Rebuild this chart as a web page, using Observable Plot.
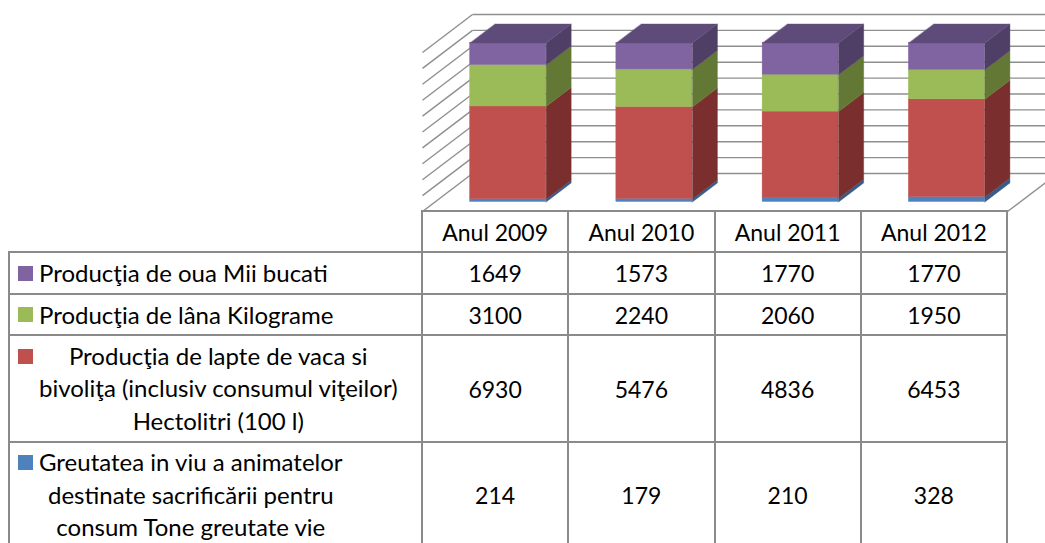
<!DOCTYPE html>
<html>
<head>
<meta charset="utf-8">
<script src="https://cdn.jsdelivr.net/npm/d3@7"></script>
<script src="https://cdn.jsdelivr.net/npm/@observablehq/plot@0.6"></script>
<style>
  html, body { margin: 0; padding: 0; background: #fff; overflow: hidden; }
  #wrap { position: relative; width: 1045px; height: 543px; overflow: hidden; font-family: Lato, "Open Sans", sans-serif; color: #000; }
  #chart { position: absolute; left: 0; top: 0; }
  .hl, .vl { position: absolute; background: #8a8a8a; }
  .txt { position: absolute; font-size: 23px; line-height: 32.5px; white-space: nowrap; }
  .lab { font-size: 24px; }
  .sw { position: absolute; width: 15px; height: 15px; }
</style>
</head>
<body>
<div id="wrap"><div id="chart"></div></div>
<script>
// ---- data ----
const years = ["Anul 2009", "Anul 2010", "Anul 2011", "Anul 2012"];
const seriesNames = [
  "Greutatea in viu a animatelor\ndestinate sacrificării pentru\nconsum Tone greutate vie",
  "Producţia de lapte de vaca si\nbivoliţa (inclusiv consumul viţeilor)\nHectolitri (100 l)",
  "Producţia de lâna Kilograme",
  "Producţia de oua Mii bucati"
];
const weightValues = [214, 179, 210, 328];
const milkValues = [6930, 5476, 4836, 6453];
const woolValues = [3100, 2240, 2060, 1950];
const eggValues = [1649, 1573, 1770, 1770];
const gridTicks = [0, 10, 20, 30, 40, 50, 60, 70, 80, 90, 100];

// ---- styles ----
const frontColors = ["#4F81BD", "#C0504D", "#9BBB59", "#8064A2"];
const sideColors  = ["#375C89", "#7A2F2E", "#637835", "#4F3E66"];
const topColors   = ["#3F6A9C", "#96403D", "#7B9446", "#5F4B7A"];
const seriesValues = [weightValues, milkValues, woolValues, eggValues];

const DX = 0.342, DY = 23.9;        // full depth vector in data units
const F = 0.25, B = 0.75;           // bar front / back depth fraction
const HALF = 0.26;                  // half bar width in category units

// ---- build faces from data ----
const fronts = [], sides = [], tops = [];
years.forEach((yr, i) => {
  const total = d3.sum(seriesValues, s => s[i]);
  let lo = 0;
  seriesValues.forEach((s, k) => {
    const hi = lo + s[i] / total * 100;
    const x1f = i - HALF + F * DX, x2f = i + HALF + F * DX;
    const x1b = i - HALF + B * DX, x2b = i + HALF + B * DX;
    fronts.push({x1: x1f, x2: x2f, y1: lo + F * DY, y2: hi + F * DY, c: frontColors[k]});
    const sid = `s${i}-${k}`;
    [[x2f, lo + F * DY], [x2b, lo + B * DY], [x2b, hi + B * DY], [x2f, hi + F * DY]]
      .forEach(([x, y]) => sides.push({x, y, id: sid, c: sideColors[k]}));
    if (k === seriesValues.length - 1) {
      const tid = `t${i}`;
      [[x1f, hi + F * DY], [x2f, hi + F * DY], [x2b, hi + B * DY], [x1b, hi + B * DY]]
        .forEach(([x, y]) => tops.push({x, y, id: tid, c: topColors[k]}));
    }
    lo = hi;
  });
});

const x0 = -0.5, x1 = years.length - 0.5;
const backLines = gridTicks.map(t => ({x1: x0 + DX, y1: t + DY, x2: x1 + DX + 0.2, y2: t + DY}));
const sideLines = gridTicks.map(t => ({x1: x0 + DX, y1: t + DY, x2: x0, y2: t}));
const floorLines = [
  {x1: x0, y1: 0, x2: x1, y2: 0},
  {x1: x1, y1: 0, x2: x1 + DX, y2: DY}
];

const chart = Plot.plot({
  width: 1045,
  height: 212,
  marginLeft: 422,
  marginRight: 38,
  marginTop: 52,
  marginBottom: 1,
  x: {domain: [x0, x1], axis: null},
  y: {domain: [0, 100], axis: null},
  color: {type: "identity"},
  marks: [
    Plot.link(backLines, {x1: "x1", y1: "y1", x2: "x2", y2: "y2", stroke: "#8f8f8f", strokeWidth: 1.4}),
    Plot.link(sideLines, {x1: "x1", y1: "y1", x2: "x2", y2: "y2", stroke: "#8f8f8f", strokeWidth: 1.4}),
    Plot.link(floorLines, {x1: "x1", y1: "y1", x2: "x2", y2: "y2", stroke: "#8f8f8f", strokeWidth: 1.4}),
    Plot.rect(fronts, {x1: "x1", x2: "x2", y1: "y1", y2: "y2", fill: "c", stroke: "c", strokeWidth: 0.4}),
    Plot.line(sides, {x: "x", y: "y", z: "id", fill: "c", stroke: "c", strokeWidth: 0.4, curve: "linear-closed"}),
    Plot.line(tops, {x: "x", y: "y", z: "id", fill: "c", stroke: "c", strokeWidth: 0.4, curve: "linear-closed"})
  ]
});
document.getElementById("chart").appendChild(chart);

// ---- data table below the chart ----
const wrap = document.getElementById("wrap");
const xs = chart.scale("x");
const colEdges = d3.range(years.length + 1).map(j => xs.apply(j - 0.5));
const tableLeft = 9;
const rowEdges = [211, 252, 294, 335, 442, 548];
const rowOrder = [3, 2, 1, 0];   // table lists top series first
const LW = 2;

function el(cls, css, text) {
  const d = document.createElement("div");
  d.className = cls;
  Object.assign(d.style, css);
  if (text != null) d.textContent = text;
  wrap.appendChild(d);
  return d;
}
// horizontal lines
rowEdges.slice(0, 5).forEach((y, r) => {
  const left = r === 0 ? colEdges[0] : tableLeft;
  el("hl", {left: (left - 1) + "px", top: (y - 1) + "px", width: (colEdges[years.length] - left + 2) + "px", height: LW + "px"});
});
// vertical lines
colEdges.forEach(x => el("vl", {left: (x - 1) + "px", top: (rowEdges[0] - 1) + "px", width: LW + "px", height: "400px"}));
el("vl", {left: (tableLeft - 1) + "px", top: (rowEdges[1] - 1) + "px", width: LW + "px", height: "400px"});

// header
years.forEach((yr, i) => {
  el("txt", {left: xs.apply(i) + "px", top: ((rowEdges[0] + rowEdges[1]) / 2) + "px", transform: "translate(-50%,-50%)"}, yr);
});
// rows
rowOrder.forEach((k, r) => {
  const top = rowEdges[r + 1], bot = rowEdges[r + 2];
  const cy = (top + bot) / 2;
  const lines = seriesNames[k].split("\n");
  const lab = el("txt lab", {left: "39px", top: cy + "px", transform: "translateY(-50%)", textAlign: "center"});
  lines.forEach((ln, j) => {
    if (j) lab.appendChild(document.createElement("br"));
    lab.appendChild(document.createTextNode(ln));
  });
  const firstLineCenter = cy - (lines.length - 1) * 32.5 / 2;
  el("sw", {left: "18px", top: (firstLineCenter - 7.5) + "px", background: frontColors[k]});
  seriesValues[k].forEach((v, i) => {
    el("txt", {left: xs.apply(i) + "px", top: cy + "px", transform: "translate(-50%,-50%)"}, String(v));
  });
});
</script>
</body>
</html>
